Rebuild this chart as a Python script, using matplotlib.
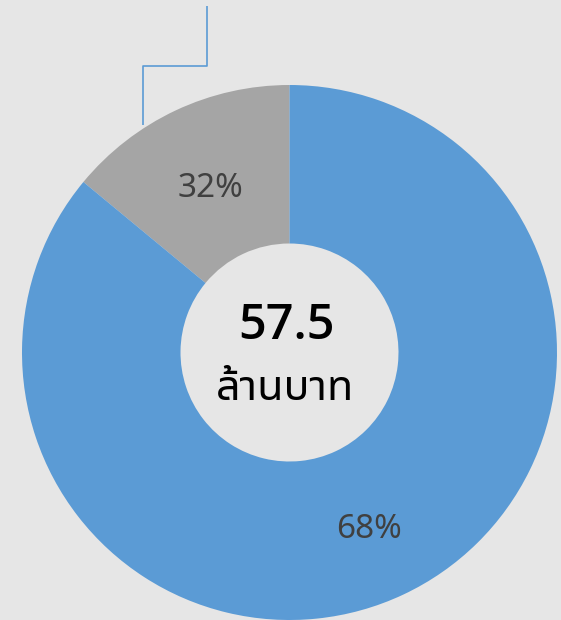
import matplotlib
matplotlib.use("Agg")
import matplotlib.pyplot as plt

# slice sizes as drawn (the printed labels disagree with the geometry)
categories = ["gray", "blue"]
values = [14, 86]
labels = ["32%", "68%"]
colors = ["#a5a5a5", "#5b9bd5"]
total_text = "57.5"
unit_text = "ล้านบาท"

bg = "#e6e6e6"
W, H = 561, 620
cx, cy, r = 289.5, 267.5, 267.5
hole = 109

fig = plt.figure(figsize=(W / 100, H / 100), dpi=100, facecolor=bg)
ax = fig.add_axes([0, 0, 1, 1])
ax.set_facecolor(bg)

wedges, _ = ax.pie(values, colors=colors, radius=r, center=(cx, cy),
                   startangle=90, counterclock=True,
                   wedgeprops=dict(width=r - hole, linewidth=0))

ax.set_xlim(0, W)
ax.set_ylim(0, H)
ax.set_aspect("equal")
ax.axis("off")

# percentage labels
num_font = ["Noto Sans", "DejaVu Sans"]
ax.text(cx - 79.5, cy + 164, labels[0], ha="center", va="center",
        fontsize=24, color="#404040", family=num_font)
ax.text(cx + 79.5, cy - 177.5, labels[1], ha="center", va="center",
        fontsize=24, color="#404040", family=num_font)

# centre text
ax.text(cx - 3, cy + 26, total_text, ha="center", va="center",
        fontsize=35, fontweight="semibold", color="black",
        family=["Open Sans", "DejaVu Sans"])
ax.text(cx - 4, cy - 37, unit_text, ha="center", va="center",
        fontsize=31, color="black", fontweight="light",
        family=["Noto Sans Thai UI", "Noto Sans"])

# leader line for the label above the frame
ax.plot([cx - 82.5, cx - 82.5, cx - 146.5, cx - 146.5],
        [cy + 346.5, cy + 286.5, cy + 286.5, cy + 227.5],
        color="#5b9bd5", lw=1.2, solid_capstyle="butt")

fig.savefig("out.png", dpi=100, facecolor=bg)
